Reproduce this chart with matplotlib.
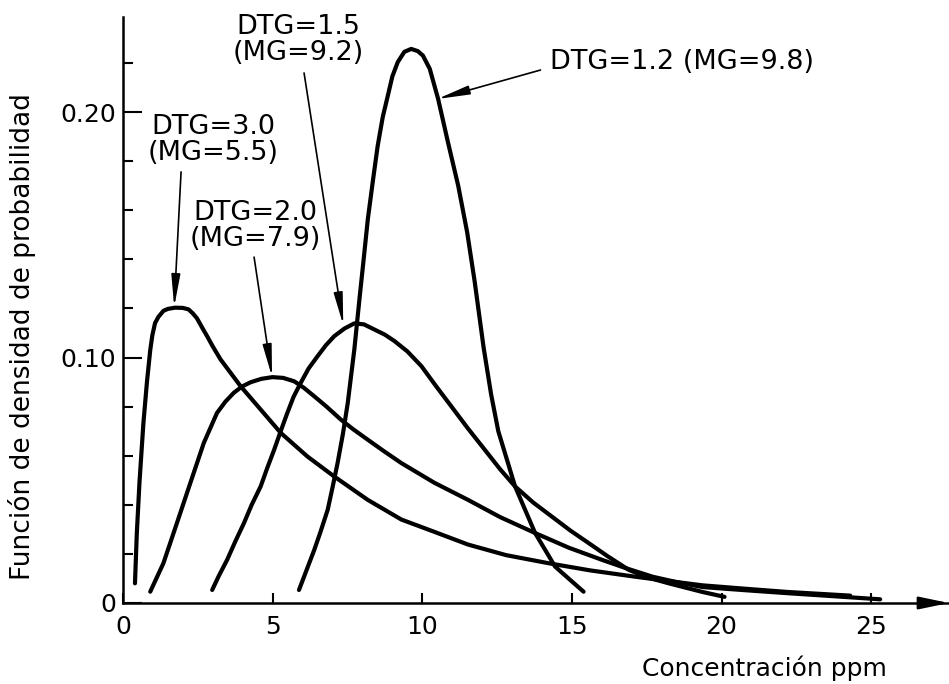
import matplotlib
matplotlib.use("Agg")
import matplotlib.pyplot as plt
from matplotlib.ticker import MultipleLocator

# curves: concentration (ppm) vs probability density
x_dtg30 = [0.40, 0.46, 0.55, 0.68, 0.80, 0.91, 0.98, 1.07, 1.18, 1.35, 1.50, 1.74, 2.00,
           2.19, 2.33, 2.47, 2.63, 2.81, 3.00, 3.26, 3.93, 4.60, 5.27, 6.16, 7.05, 8.18,
           9.30, 10.4, 11.53, 12.8, 14.22, 15.6, 17.12, 18.2, 19.36, 20.8, 22.2, 24.3]
y_dtg30 = [0.008, 0.028, 0.049, 0.073, 0.090, 0.103, 0.109, 0.114, 0.1165, 0.119, 0.1198,
           0.1203, 0.1202, 0.1196, 0.118, 0.116, 0.1125, 0.1087, 0.1045, 0.0992, 0.0883,
           0.0788, 0.0693, 0.0597, 0.0516, 0.042, 0.0340, 0.0290, 0.0238, 0.0195, 0.0162,
           0.0133, 0.0107, 0.009, 0.0072, 0.0058, 0.0045, 0.0030]

x_dtg20 = [0.91, 1.35, 1.80, 2.25, 2.70, 3.14, 3.42, 3.70, 3.98, 4.26, 4.62, 4.99, 5.35,
           5.72, 6.05, 6.39, 6.80, 7.28, 7.70, 8.18, 8.70, 9.30, 10.4, 11.53, 12.6, 13.77,
           14.9, 16.0, 16.8, 17.7, 18.5, 19.36, 20.8, 22.2, 23.7, 25.3]
y_dtg20 = [0.0046, 0.0162, 0.0325, 0.0489, 0.0652, 0.0774, 0.082, 0.0856, 0.0882, 0.0899,
           0.0913, 0.0920, 0.0917, 0.0903, 0.0876, 0.0842, 0.080, 0.0747, 0.0707, 0.0665,
           0.062, 0.0570, 0.049, 0.0420, 0.035, 0.0285, 0.0225, 0.0176, 0.0142, 0.0107,
           0.0085, 0.0065, 0.0052, 0.0040, 0.0028, 0.0015]

x_dtg15 = [2.98, 3.20, 3.48, 3.75, 4.04, 4.30, 4.60, 4.82, 5.05, 5.27, 5.49, 5.70, 5.94,
           6.20, 6.50, 6.78, 7.06, 7.40, 7.73, 8.05, 8.40, 8.75, 9.07, 9.50, 9.97, 10.45,
           10.97, 11.50, 12.09, 12.60, 13.10, 13.70, 14.33, 14.95, 15.56, 16.2, 16.9, 17.5,
           18.24, 19.36, 20.1]
y_dtg15 = [0.0053, 0.011, 0.0176, 0.025, 0.0325, 0.040, 0.0475, 0.055, 0.0624, 0.070,
           0.0774, 0.084, 0.0897, 0.0955, 0.1005, 0.105, 0.1087, 0.1118, 0.1139, 0.1135,
           0.1114, 0.1093, 0.1067, 0.1025, 0.0965, 0.0885, 0.0801, 0.0715, 0.0624, 0.0545,
           0.0475, 0.041, 0.0352, 0.0295, 0.0244, 0.019, 0.0135, 0.0105, 0.0080, 0.0045,
           0.0025]

x_dtg12 = [5.88, 6.39, 6.60, 6.84, 7.00, 7.17, 7.35, 7.51, 7.73, 7.90, 8.05, 8.18, 8.35,
           8.51, 8.68, 8.85, 9.00, 9.18, 9.40, 9.63, 9.85, 10.02, 10.25, 10.53, 10.86,
           11.20, 11.50, 11.75, 12.05, 12.30, 12.54, 13.10, 13.77, 14.44, 15.39]
y_dtg12 = [0.0053, 0.0216, 0.029, 0.038, 0.047, 0.057, 0.069, 0.0815, 0.1033, 0.1237,
           0.141, 0.1563, 0.172, 0.1862, 0.198, 0.2067, 0.2145, 0.2203, 0.2245, 0.2257,
           0.2248, 0.223, 0.2176, 0.2053, 0.1876, 0.170, 0.151, 0.131, 0.104, 0.085, 0.070,
           0.0475, 0.0285, 0.0148, 0.0046]

fig = plt.figure(figsize=(9.49, 6.84), dpi=100)
ax = fig.add_axes([123 / 949, 81 / 684, 826 / 949, 586 / 684])

for xs, ys in [(x_dtg30, y_dtg30), (x_dtg20, y_dtg20), (x_dtg15, y_dtg15), (x_dtg12, y_dtg12)]:
    ax.plot(xs, ys, color="black", lw=3.0, solid_joinstyle="round", solid_capstyle="round")

ax.set_xlim(0, 27.6)
ax.set_ylim(0, 0.2387)
ax.spines["top"].set_visible(False)
ax.spines["right"].set_visible(False)
ax.spines["left"].set_linewidth(1.8)
ax.spines["bottom"].set_linewidth(1.8)

ax.set_xticks([0, 5, 10, 15, 20, 25])
ax.set_yticks([0, 0.10, 0.20])
ax.set_yticklabels(["0", "0.10", "0.20"])
ax.yaxis.set_minor_locator(MultipleLocator(0.02))
ax.tick_params(axis="x", direction="in", length=7, width=1.5, pad=9, labelsize=18)
ax.tick_params(axis="y", which="major", direction="in", length=14, width=1.5, pad=5, labelsize=18)
ax.tick_params(axis="y", which="minor", direction="in", length=7, width=1.5)

# arrow at the end of the x axis
ax.annotate("", xy=(1.0, 0), xytext=(0.965, 0), xycoords="axes fraction",
            arrowprops=dict(arrowstyle="-|>,head_length=1.2,head_width=0.25",
                            color="black", lw=1.8, mutation_scale=15, shrinkA=0, shrinkB=0),
            annotation_clip=False)

ax.set_xlabel("Concentración ppm", fontsize=18, va="center")
ax.xaxis.set_label_coords(0.777, -0.111)
ax.set_ylabel("Función de densidad de probabilidad", fontsize=19, va="center", ha="center")
ax.yaxis.set_label_coords(-0.1223, 0.454)

arrow_kw = dict(arrowstyle="-|>,head_length=1.3,head_width=0.18", color="black", lw=1.2,
                mutation_scale=15, shrinkA=0, shrinkB=0)

labels = [
    ("DTG=3.0\n(MG=5.5)", (3.01, 0.1885), (1.94, 0.1756), (1.71, 0.1206), "center"),
    ("DTG=2.0\n(MG=7.9)", (4.41, 0.1536), (4.38, 0.1409), (4.98, 0.0921), "center"),
    ("DTG=1.5\n(MG=9.2)", (5.85, 0.2293), (6.05, 0.2159), (7.36, 0.1132), "center"),
    ("DTG=1.2 (MG=9.8)", (14.28, 0.2204), (13.95, 0.2171), (10.50, 0.2053), "left"),
]
for txt, tpos, start, tip, ha in labels:
    ax.text(tpos[0], tpos[1], txt, fontsize=19.5, ha=ha, va="center",
            multialignment="center", linespacing=1.0)
    ax.annotate("", xy=tip, xytext=start, arrowprops=arrow_kw)

fig.savefig("out.png", dpi=100, facecolor="white")
